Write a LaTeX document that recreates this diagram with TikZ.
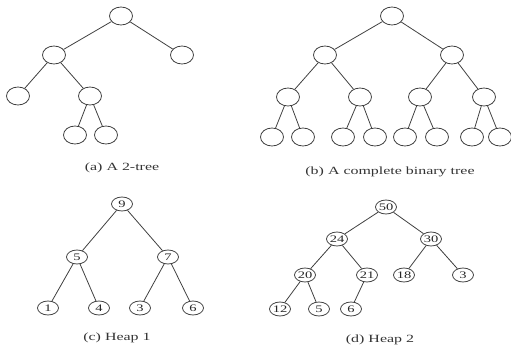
\documentclass[tikz,border=0pt]{standalone}
\usepackage{fontspec}
\usepackage{graphicx}
\setmainfont{Liberation Serif}
\usetikzlibrary{shapes.geometric}
\newcommand{\widetext}[1]{\scalebox{1.45}[1]{#1}}
\tikzset{
  x=1pt, y=-1pt,
  edge/.style={draw=black!75, line width=0.8pt},
  bignode/.style={ellipse, draw=black!75, line width=0.8pt, minimum width=23pt, minimum height=18pt, inner sep=0pt},
  heapnode/.style={ellipse, draw=black!75, line width=0.8pt, minimum width=21pt, minimum height=14pt, inner sep=0pt, font=\fontsize{10}{10}\selectfont, text=black!85},
  caption/.style={font=\fontsize{11}{11}\selectfont, text=black!80, inner sep=0pt}
}
\begin{document}
\begin{tikzpicture}
\useasboundingbox (0,0) rectangle (511,350);
% (a) 2-tree
\node[bignode] (ar) at (121,16) {};
\node[bignode] (a1) at (54,55) {};
\node[bignode] (a2) at (182,55) {};
\node[bignode] (a3) at (18,96) {};
\node[bignode] (a4) at (90,96) {};
\node[bignode] (a5) at (75,135) {};
\node[bignode] (a6) at (106,135) {};
\draw[edge] (ar) -- (a1);
\draw[edge] (ar) -- (a2);
\draw[edge] (a1) -- (a3);
\draw[edge] (a1) -- (a4);
\draw[edge] (a4) -- (a5);
\draw[edge] (a4) -- (a6);
\node[caption] (capa) at (122,168) {\widetext{(a) A 2-tree}};
% (b) complete binary tree
\node[bignode] (br) at (392,16) {};
\node[bignode] (b1) at (325,55) {};
\node[bignode] (b2) at (452,55) {};
\node[bignode] (b3) at (288,97) {};
\node[bignode] (b4) at (360,97) {};
\node[bignode] (b5) at (420,97) {};
\node[bignode] (b6) at (484,97) {};
\node[bignode] (b7) at (272,137) {};
\node[bignode] (b8) at (303,137) {};
\node[bignode] (b9) at (343,137) {};
\node[bignode] (b10) at (375,137) {};
\node[bignode] (b11) at (405,137) {};
\node[bignode] (b12) at (437,137) {};
\node[bignode] (b13) at (472,137) {};
\node[bignode] (b14) at (500,137) {};
\draw[edge] (br) -- (b1);
\draw[edge] (br) -- (b2);
\draw[edge] (b1) -- (b3);
\draw[edge] (b1) -- (b4);
\draw[edge] (b2) -- (b5);
\draw[edge] (b2) -- (b6);
\draw[edge] (b3) -- (b7);
\draw[edge] (b3) -- (b8);
\draw[edge] (b4) -- (b9);
\draw[edge] (b4) -- (b10);
\draw[edge] (b5) -- (b11);
\draw[edge] (b5) -- (b12);
\draw[edge] (b6) -- (b13);
\draw[edge] (b6) -- (b14);
\node[caption] (capb) at (390,172) {\widetext{(b) A complete binary tree}};
% (c) Heap 1
\node[heapnode] (c9) at (122,204) {\widetext{9}};
\node[heapnode] (c5) at (77,257) {\widetext{5}};
\node[heapnode] (c7) at (168,257) {\widetext{7}};
\node[heapnode] (c1) at (48,308) {\widetext{1}};
\node[heapnode] (c4) at (99,308) {\widetext{4}};
\node[heapnode] (c3) at (140,308) {\widetext{3}};
\node[heapnode] (c6) at (193,308) {\widetext{6}};
\draw[edge] (c9) -- (c5);
\draw[edge] (c9) -- (c7);
\draw[edge] (c5) -- (c1);
\draw[edge] (c5) -- (c4);
\draw[edge] (c7) -- (c3);
\draw[edge] (c7) -- (c6);
\node[caption] (capc) at (117,338) {\widetext{(c) Heap 1}};
% (d) Heap 2
\node[heapnode] (d50) at (386,207) {\widetext{50}};
\node[heapnode] (d24) at (337,239) {\widetext{24}};
\node[heapnode] (d30) at (431,239) {\widetext{30}};
\node[heapnode] (d20) at (305,275) {\widetext{20}};
\node[heapnode] (d21) at (367,275) {\widetext{21}};
\node[heapnode] (d18) at (404,275) {\widetext{18}};
\node[heapnode] (d3) at (463,275) {\widetext{3}};
\node[heapnode] (d12) at (280,309) {\widetext{12}};
\node[heapnode] (d5) at (319,309) {\widetext{5}};
\node[heapnode] (d6) at (351,309) {\widetext{6}};
\draw[edge] (d50) -- (d24);
\draw[edge] (d50) -- (d30);
\draw[edge] (d24) -- (d20);
\draw[edge] (d24) -- (d21);
\draw[edge] (d30) -- (d18);
\draw[edge] (d30) -- (d3);
\draw[edge] (d20) -- (d12);
\draw[edge] (d20) -- (d5);
\draw[edge] (d21) -- (d6);
\node[caption] (capd) at (380,340) {\widetext{(d) Heap 2}};
\end{tikzpicture}
\end{document}
